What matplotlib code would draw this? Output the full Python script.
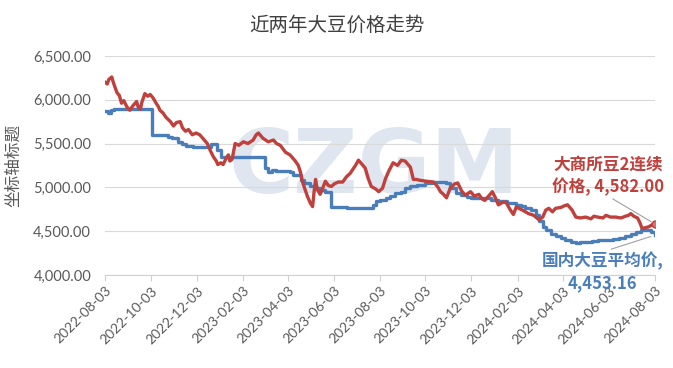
import numpy as np
import pandas as pd
import matplotlib
matplotlib.use("Agg")
import matplotlib.pyplot as plt
import matplotlib.dates as mdates

plt.rcParams['font.family'] = ['Noto Sans CJK SC', 'DejaVu Sans']

start = pd.Timestamp("2022-08-03")

# 大商所豆2连续: days since 2022-08-03, price
red_days = [0, 3, 5, 9, 11, 13, 16, 19, 22, 25, 29, 33, 37, 42, 44, 47, 49, 53, 57, 60,
            64, 68, 71, 73, 77, 81, 87, 91, 95, 100, 103, 107, 111, 116, 121, 126, 130, 136, 140, 144,
            148, 150, 154, 157, 161, 164, 166, 169, 173, 178, 184, 190, 197, 201, 204, 208, 210, 217, 224, 228,
            233, 240, 246, 250, 253, 257, 260, 262, 265, 269, 273, 276, 278, 280, 282, 286, 289, 293, 297, 301,
            305, 310, 316, 321, 326, 333, 337, 341, 346, 350, 354, 360, 364, 369, 373, 377, 383, 389, 394, 399,
            403, 406, 410, 414, 419, 427, 437, 442, 446, 450, 454, 459, 465, 469, 474, 479, 486, 491, 497, 501,
            505, 510, 515, 519, 523, 529, 533, 539, 543, 547, 550, 555, 563, 570, 577, 582, 586, 590, 595, 599,
            606, 611, 615, 621, 626, 632, 639, 646, 650, 655, 662, 666, 672, 679, 686, 692, 696, 699, 703, 708,
            711, 714, 719, 723, 727, 731]
red_vals = [6200, 6180, 6230, 6260, 6200, 6150, 6080, 6050, 5960, 5990, 5920, 5880, 5930, 5980, 5920, 5890, 5970, 6070, 6040, 6060,
            6020, 5960, 5920, 5880, 5850, 5800, 5750, 5700, 5740, 5750, 5680, 5640, 5660, 5600, 5620, 5600, 5560, 5500, 5420, 5350,
            5300, 5260, 5280, 5260, 5330, 5370, 5300, 5320, 5500, 5480, 5520, 5500, 5540, 5600, 5620, 5580, 5560, 5520, 5540, 5500,
            5480, 5400, 5370, 5330, 5300, 5250, 5170, 5080, 5000, 4900, 4820, 4780, 4950, 5090, 4980, 4920, 4980, 5070, 5020, 5010,
            5040, 5060, 5060, 5120, 5160, 5250, 5310, 5270, 5220, 5100, 5010, 4980, 4950, 4990, 5100, 5180, 5280, 5250, 5310, 5300,
            5260, 5230, 5090, 5090, 5080, 5070, 5060, 5010, 4950, 4920, 4880, 4990, 5040, 5050, 4960, 4910, 4950, 4900, 4920, 4870,
            4850, 4900, 4950, 4880, 4800, 4830, 4830, 4740, 4690, 4780, 4760, 4740, 4700, 4680, 4630, 4660, 4740, 4760, 4720, 4760,
            4770, 4790, 4800, 4740, 4660, 4650, 4660, 4640, 4670, 4660, 4650, 4680, 4660, 4660, 4650, 4670, 4680, 4700, 4670, 4650,
            4600, 4530, 4540, 4550, 4570, 4582.00]

# 国内大豆平均价: days since 2022-08-03, price
blue_days = [0, 4, 8, 12, 63, 84, 89, 97, 103, 108, 117, 141, 149, 154, 213, 217, 222, 228, 246, 250,
             260, 265, 273, 281, 286, 293, 301, 322, 356, 360, 366, 373, 379, 386, 393, 399, 406, 415, 426, 435,
             446, 454, 459, 466, 473, 481, 486, 503, 513, 522, 535, 546, 553, 559, 566, 573, 577, 582, 586, 593,
             599, 606, 612, 619, 626, 632, 639, 648, 656, 666, 675, 683, 692, 699, 706, 712, 719, 726, 731]
blue_vals = [5870, 5850, 5880, 5890, 5600, 5580, 5560, 5520, 5490, 5470, 5465, 5500, 5430, 5350, 5220, 5180, 5200, 5190, 5170, 5140,
             5080, 5050, 5010, 4990, 4970, 4950, 4780, 4760, 4800, 4840, 4860, 4880, 4900, 4930, 4950, 4990, 5010, 5030, 5045, 5055,
             5065, 5050, 4990, 4940, 4910, 4890, 4875, 4875, 4860, 4840, 4820, 4800, 4790, 4760, 4740, 4680, 4610, 4550, 4510, 4470,
             4440, 4420, 4400, 4370, 4360, 4370, 4380, 4390, 4400, 4400, 4410, 4420, 4440, 4470, 4490, 4510, 4515, 4490, 4453.16]

tick_labels = ["2022-08-03", "2022-10-03", "2022-12-03", "2023-02-03", "2023-04-03", "2023-06-03", "2023-08-03",
               "2023-10-03", "2023-12-03", "2024-02-03", "2024-04-03", "2024-06-03", "2024-08-03"]
y_ticks = [4000, 4500, 5000, 5500, 6000, 6500]

red_c = "#C0403C"
blue_c = "#4A7EBB"

red_x = start + pd.to_timedelta(red_days, unit="D")
blue_x = start + pd.to_timedelta(blue_days, unit="D")
tick_x = pd.to_datetime(tick_labels)

fig = plt.figure(figsize=(6.73, 3.68), dpi=100)
ax = fig.add_axes([0.156, 0.253, 0.817, 0.595])

# watermark
ax.text(0.49, 0.374, "CZGM", transform=ax.transAxes, fontsize=64, fontweight="bold",
        family=["Liberation Sans Narrow", "DejaVu Sans"], color="#dfe6f0",
        ha="center", va="baseline", zorder=0)

ax.plot(red_x, red_vals, color=red_c, lw=2.4, zorder=3)
ax.plot(blue_x, blue_vals, color=blue_c, lw=2.4, drawstyle="steps-post", zorder=2)
ax.plot(red_x[-1], red_vals[-1], "o", ms=5, color=red_c, mfc="#d87070", zorder=4)

ax.set_xlim(tick_x[0], tick_x[-1])
ax.set_ylim(4000, 6500)
ax.set_yticks(y_ticks)
ax.set_yticklabels([f"{v:,.2f}" for v in y_ticks])
ax.set_xticks(tick_x)
ax.set_xticklabels(tick_labels, rotation=45, ha="right", rotation_mode="anchor")
ax.grid(axis="y", color="#d9d9d9", lw=0.8)
ax.set_axisbelow(True)
for s in ["top", "right", "left"]:
    ax.spines[s].set_visible(False)
ax.spines["bottom"].set_color("#d0d0d0")
ax.tick_params(axis="y", length=0, labelsize=10.5, labelcolor="#595959", pad=10)
ax.tick_params(axis="x", length=4, color="#d0d0d0", labelsize=10, labelcolor="#595959", pad=3)
for t in ax.get_xticklabels() + ax.get_yticklabels():
    t.set_family(["Lato", "DejaVu Sans"])

ax.set_ylabel("坐标轴标题", fontsize=12, color="#595959", labelpad=8)
fig.suptitle("近两年大豆价格走势", x=0.5, y=0.96, fontsize=14, color="#404040")

# data labels with leader lines
ax.annotate("大商所豆2连续\n价格, " + f"{red_vals[-1]:,.2f}", xy=(red_x[-1], red_vals[-1]),
            xytext=(0.915, 0.36), textcoords="axes fraction", ha="center", va="bottom",
            fontsize=12, fontweight="bold", color=red_c, linespacing=1.25, annotation_clip=False,
            arrowprops=dict(arrowstyle="-", color="#a0a0a0", lw=0.8, shrinkA=0, shrinkB=3,
                            relpos=(0.5, 0.0)))
ax.annotate("国内大豆平均价,\n" + f"{blue_vals[-1]:,.2f}", xy=(blue_x[-1], blue_vals[-1]),
            xytext=(0.905, 0.105), textcoords="axes fraction", ha="center", va="top",
            fontsize=12, fontweight="bold", color=blue_c, linespacing=1.25, annotation_clip=False,
            arrowprops=dict(arrowstyle="-", color="#a0a0a0", lw=0.8, shrinkA=0, shrinkB=3,
                            relpos=(0.5, 1.0)))

fig.savefig("out.png", dpi=100)
